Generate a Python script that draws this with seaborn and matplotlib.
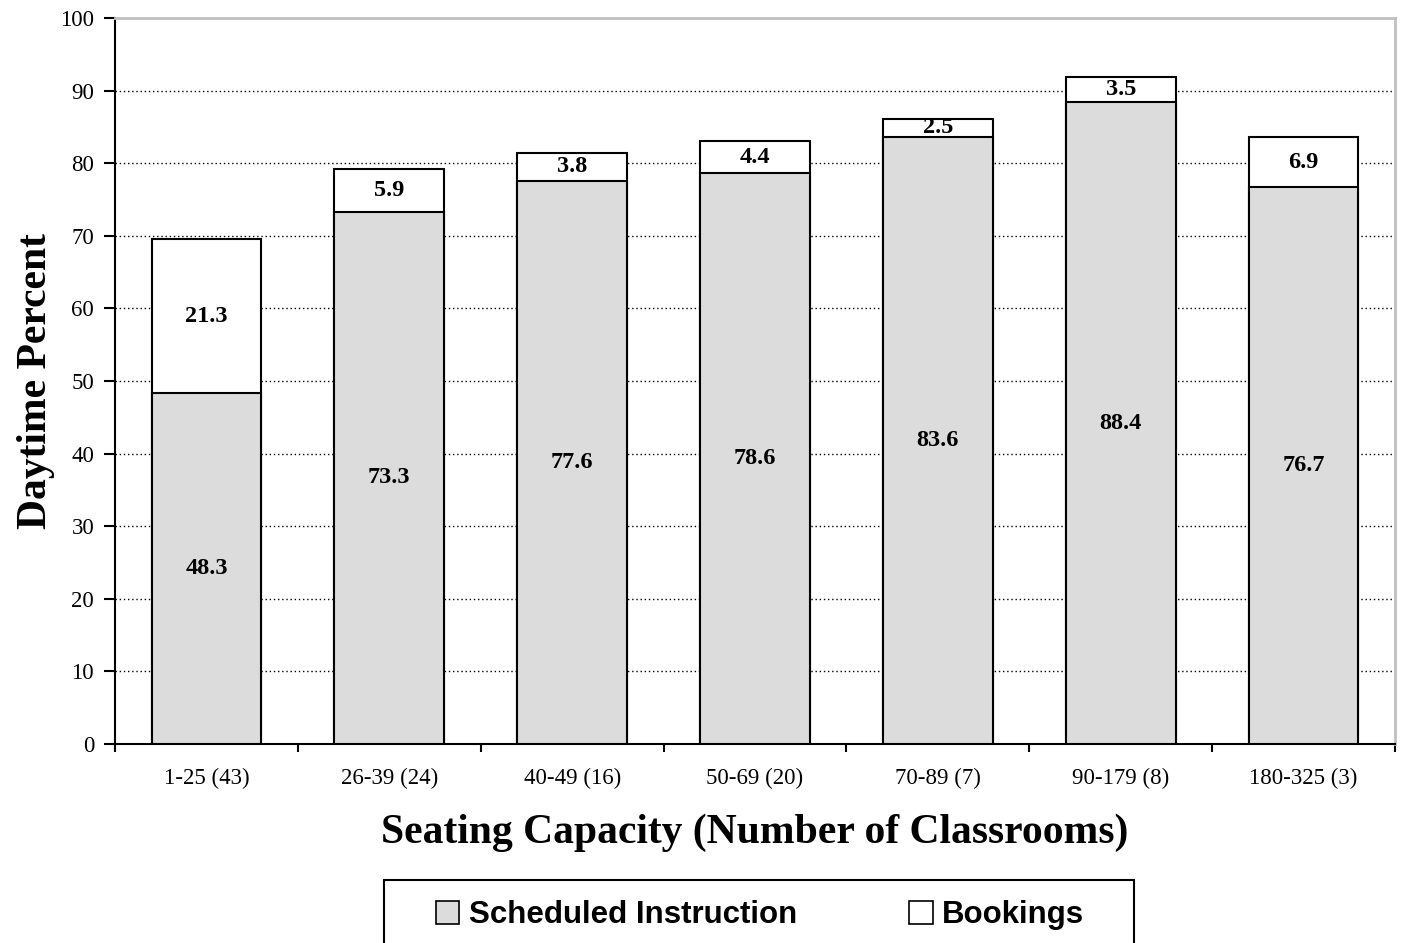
import pandas as pd
import seaborn as sns
import matplotlib.pyplot as plt
from matplotlib.patches import Patch, Rectangle
from matplotlib.ticker import MultipleLocator

sns.set_theme(style='white')
plt.rcParams['font.family'] = ['Liberation Serif', 'DejaVu Serif']
plt.rcParams.update({'text.color': 'black', 'axes.labelcolor': 'black',
                     'xtick.color': 'black', 'ytick.color': 'black'})

# data
capacity = ['1-25 (43)', '26-39 (24)', '40-49 (16)', '50-69 (20)',
            '70-89 (7)', '90-179 (8)', '180-325 (3)']
scheduled = [48.3, 73.3, 77.6, 78.6, 83.6, 88.4, 76.7]
bookings = [21.3, 5.9, 3.8, 4.4, 2.5, 3.5, 6.9]

gray = '#dcdcdc'

df = pd.DataFrame({'capacity': capacity, 'scheduled': scheduled, 'bookings': bookings})
df['total'] = df['scheduled'] + df['bookings']

fig = plt.figure(figsize=(14.03, 9.43), dpi=100, facecolor='white')
ax = fig.add_axes([115 / 1403, 1 - 744 / 943, 1280 / 1403, 726 / 943])

# stacked bars: total (white) under the scheduled part (gray)
sns.barplot(data=df, x='capacity', y='total', color='white', width=0.6,
            edgecolor='black', linewidth=1.5, saturation=1, ax=ax, zorder=2)
sns.barplot(data=df, x='capacity', y='scheduled', color=gray, width=0.6,
            edgecolor='black', linewidth=1.5, saturation=1, ax=ax, zorder=3)

for i, row in df.iterrows():
    ax.text(i, row['scheduled'] / 2, f"{row['scheduled']:.1f}", ha='center', va='center',
            fontsize=17.5, fontweight='bold', zorder=5)
    ax.text(i, row['scheduled'] + row['bookings'] / 2, f"{row['bookings']:.1f}",
            ha='center', va='center', fontsize=17.5, fontweight='bold', zorder=5)

ax.set_ylim(0, 100)
ax.set_xlim(-0.5, len(capacity) - 0.5)
ax.yaxis.set_major_locator(MultipleLocator(10))
ax.grid(axis='y', color='black', linestyle=(0, (1, 2)), linewidth=1, zorder=0)
ax.set_axisbelow(True)

# x ticks sit between categories
ax.set_xticks([i - 0.5 for i in range(len(capacity) + 1)], minor=True)
ax.tick_params(axis='x', which='major', length=0, pad=17, labelsize=16.5)
ax.tick_params(axis='x', which='minor', bottom=True, length=6, width=1.5,
               color='black', direction='out')
ax.tick_params(axis='y', left=True, length=8, width=1.5, color='black',
               direction='out', pad=7, labelsize=16.5)

for s in ['left', 'bottom']:
    ax.spines[s].set_color('black')
    ax.spines[s].set_linewidth(1.5)
for s in ['top', 'right']:
    ax.spines[s].set_color('#c0c0c0')
    ax.spines[s].set_linewidth(2)

ax.set_xlabel('Seating Capacity (Number of Classrooms)', fontsize=30, fontweight='bold', labelpad=18)
ax.set_ylabel('Daytime Percent', fontsize=30, fontweight='bold', labelpad=4)

# legend box runs off the bottom edge, so the frame is drawn separately
fig.patches.append(Rectangle((384 / 1403, -0.02), 750 / 1403, 1 - 880 / 943 + 0.02,
                             transform=fig.transFigure, facecolor='white',
                             edgecolor='black', linewidth=1.5, zorder=1))
handles = [Patch(facecolor=gray, edgecolor='black', linewidth=1.2, label='Scheduled Instruction'),
           Patch(facecolor='white', edgecolor='black', linewidth=1.2, label='Bookings')]
leg = fig.legend(handles=handles, loc='center', bbox_to_anchor=(760 / 1403, 1 - 915 / 943),
                 ncol=2, frameon=False, handlelength=0.75, handleheight=0.75,
                 handletextpad=0.3, columnspacing=3.6, borderpad=0, borderaxespad=0,
                 prop={'family': 'Liberation Sans', 'weight': 'bold', 'size': 22.5})
leg.set_zorder(3)

fig.savefig('out.png', dpi=100, facecolor='white')
